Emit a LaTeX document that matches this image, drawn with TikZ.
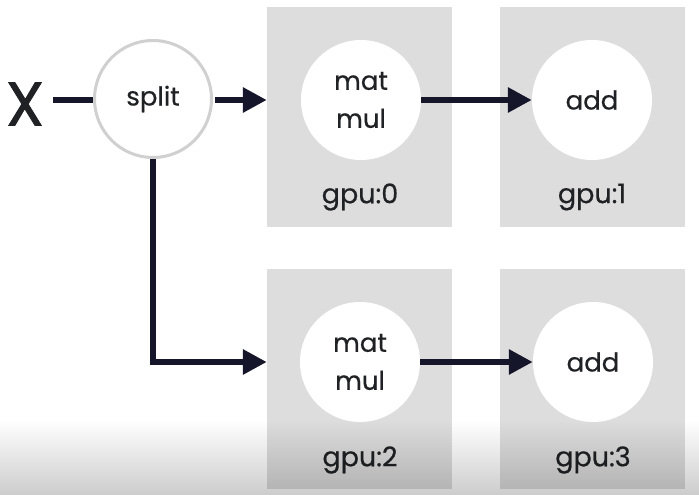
\documentclass[tikz,border=0pt]{standalone}
\usepackage{fontspec}
\setmainfont{Poppins}[UprightFeatures={FakeBold=0.5}]
\newfontfamily\bigfont{Poppins}[FakeBold=1.2]
\usetikzlibrary{arrows.meta,fadings}
\definecolor{txt}{HTML}{202124}
\definecolor{arrowc}{HTML}{16162A}
\definecolor{boxgray}{HTML}{DDDDDD}
\definecolor{ringgray}{HTML}{D0D0D0}
\tikzfading[name=fadedown, top color=transparent!100, bottom color=transparent!0]
\begin{document}
\begin{tikzpicture}[x=1pt,y=-1pt,
  every node/.style={text=txt,font=\fontsize{26}{38}\selectfont},
  gpubox/.style={fill=boxgray, minimum width=185pt, minimum height=220pt, inner sep=0pt},
  opnode/.style={circle, fill=white, minimum size=120pt, inner sep=0pt, align=center},
  splitnode/.style={circle, fill=white, draw=ringgray, line width=3pt, minimum size=117pt, inner sep=0pt},
  lab/.style={font=\fontsize{27}{30}\selectfont},
  arr/.style={draw=arrowc, line width=6pt, -{Triangle[length=24pt,width=24pt]}},
  plain/.style={draw=arrowc, line width=5.5pt}]
\useasboundingbox (0,0) rectangle (699,495);
\fill[white] (0,0) rectangle (699,495);
% gpu boxes
\node[gpubox] (box0) at (359.5,117) {};
\node[gpubox] (box1) at (592.5,117) {};
\node[gpubox] (box2) at (359.5,379) {};
\node[gpubox] (box3) at (592.5,379) {};
% ops
\node[opnode] (mm0) at (361,100) {mat\\mul};
\node[opnode] (add1) at (592,100) {add};
\node[opnode] (mm2) at (360,362) {mat\\mul};
\node[opnode] (add3) at (593,362) {add};
% labels
\node[lab] (g0) at (360,197) {gpu:0};
\node[lab] (g1) at (592,197) {gpu:1};
\node[lab] (g2) at (360,460) {gpu:2};
\node[lab] (g3) at (593,460) {gpu:3};
% split and X
\node[splitnode] (split) at (153,99) {split};
\node[font=\bigfont\fontsize{62}{62}\selectfont, inner sep=0pt] (X) at (25,104) {X};
\coordinate (xend) at (53,100);
% connectors
\draw[plain] (xend) -- (xend -| split.west);
\draw[arr] ([xshift=2pt]split.east |- 0,100) -- (box0.west |- 0,100);
\draw[arr] (mm0.east) -- (add1.west);
\draw[arr] (split.south) |- (box2.west |- mm2);
\draw[arr] (mm2.east) -- (add3.west);
% bottom gradient (video artefact)
\fill[black, opacity=0.2, path fading=fadedown] (0,420) rectangle (699,495);
\end{tikzpicture}
\end{document}
